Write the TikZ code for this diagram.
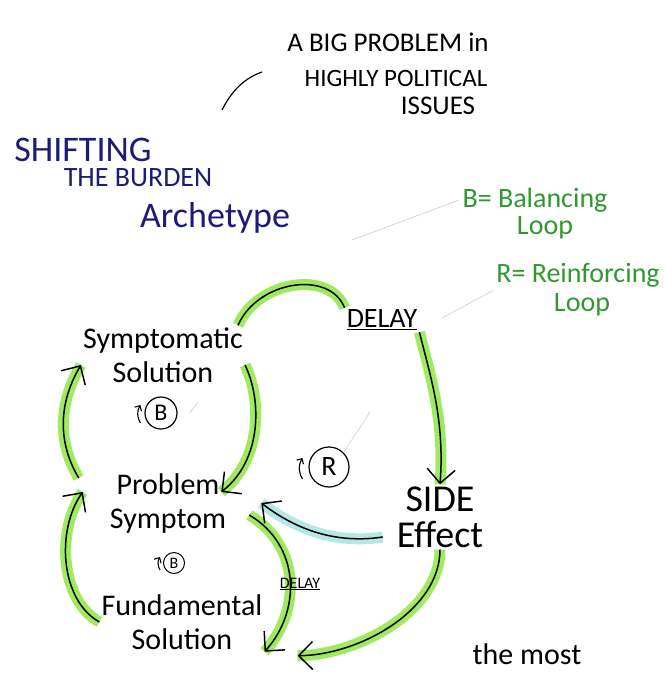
\documentclass[tikz,border=0pt]{standalone}
\usepackage{fontspec}
\setmainfont{Carlito}
\usetikzlibrary{arrows.meta}
\definecolor{navy}{HTML}{1C1C78}
\definecolor{leaf}{HTML}{2E9A2E}
\definecolor{lime}{HTML}{8FE646}
\definecolor{aqua}{HTML}{A6E4DE}
\begin{document}
\begin{tikzpicture}[x=1pt, y=-1pt,
    term/.style={font=\fontsize{30}{34}\selectfont, align=center, inner sep=2pt},
    flow/.style={draw=black, line width=1.5pt, -{Straight Barb[length=14pt,width=28pt]},
      preaction={draw=#1, line width=11pt, arrows=-, opacity=0.85}},
    flow/.default=lime,
    loopmark/.style={circle, draw, line width=1.2pt, inner sep=1pt, minimum size=32pt,
      font=\fontsize{24}{26}\selectfont},
    loopdir/.style={line width=1.1pt, -{Straight Barb[length=4pt,width=8pt]}},
    faint/.style={gray!45, line width=0.5pt}]
      \useasboundingbox (0,0) rectangle (666,675);
      \clip (0,0) rectangle (666,675);
      % heading notes
      \node[font=\fontsize{27}{28}\selectfont] (quoteA) at (388,42) {A BIG PROBLEM in};
      \node[font=\fontsize{25}{28}\selectfont] (quoteB) at (396,78) {HIGHLY POLITICAL};
      \node[font=\fontsize{27}{28}\selectfont] (quoteC) at (438,106) {ISSUES};
      \draw[line width=1.2pt] (222,110) .. controls (232,90) and (245,78) .. (262,72);
      \node[navy, font=\fontsize{36}{38}\selectfont] (titleA) at (83,150) {SHIFTING};
      \node[navy, font=\fontsize{28}{30}\selectfont] (titleB) at (138,178) {THE BURDEN};
      \node[navy, font=\fontsize{36}{38}\selectfont] (titleC) at (215,218) {Archetype};
      \node[leaf, font=\fontsize{28}{30}\selectfont] (legB) at (535,200) {B= Balancing};
      \node[leaf, font=\fontsize{28}{30}\selectfont] (legBl) at (545,228) {Loop};
      \node[leaf, font=\fontsize{28}{30}\selectfont] (legR) at (578,275) {R= Reinforcing};
      \node[leaf, font=\fontsize{28}{30}\selectfont] (legRl) at (582,305) {Loop};
      % the loop
      \node[term] (symsol) at (163,355) {Symptomatic\\Solution};
      \node[term] (prob) at (168,503) {Problem\\Symptom};
      \node[term] (fund) at (182,622) {Fundamental\\Solution};
      \node[term, font=\fontsize{38}{36}\selectfont] (side) at (440,517) {SIDE\\Effect};
      \node[font=\fontsize{28}{28}\selectfont, inner sep=2pt] (delayA) at (382,320) {\underline{DELAY}};
      \node[loopmark] (loopB1) at (161,413) {B};
      \node[loopmark, minimum size=40pt, font=\fontsize{28}{30}\selectfont] (loopR) at (329,467) {R};
      \node[loopmark, minimum size=21pt, line width=1pt, font=\fontsize{16}{18}\selectfont] (loopB2) at (174,563) {B};
      \draw[loopdir] ([shift={(-4pt,-10pt)}]loopB1.west) to[bend left=30] ([shift={(-4pt,8pt)}]loopB1.west);
      \draw[loopdir] ([shift={(-6pt,-12pt)}]loopR.west) to[bend left=30] ([shift={(-6pt,9pt)}]loopR.west);
      \draw[loopdir] ([shift={(-3pt,-7pt)}]loopB2.west) to[bend left=30] ([shift={(-3pt,6pt)}]loopB2.west);
      \draw[flow] ([xshift=-7pt]symsol.north east) .. controls (258,280) and (330,270) .. (delayA.north west)
        (delayA.south east) .. controls (430,375) and (445,420) .. (side.north);
      \draw[flow] ([yshift=-10pt]symsol.east) .. controls (262,400) and (262,460) .. ([xshift=-7pt,yshift=11pt]prob.east);
      \draw[flow] ([xshift=-29pt,yshift=25pt]prob.west) .. controls (56,440) and (60,400) .. ([yshift=-10pt]symsol.west);
      \draw[flow] (fund.west) .. controls (60,600) and (56,530) .. ([xshift=-25pt,yshift=11pt]prob.west);
      \draw[flow] ([xshift=21pt,yshift=-12pt]prob.east) .. controls (300,545) and (302,610) .. (fund.south east);
      \draw[flow=aqua] ([xshift=-12pt,yshift=-20pt]side.west) .. controls (330,545) and (290,525) .. ([xshift=33pt]prob.east);
      \draw[flow] (side.south) .. controls (440,610) and (360,655) .. ([xshift=33pt,yshift=-4pt]fund.south east);
      \node[font=\fontsize{16}{18}\selectfont, inner sep=1pt] (delayB) at (300,584) {\underline{DELAY}};
      % pointer strokes
      \coordinate (pB) at (352,240);
      \coordinate (pR) at (442,318);
      \coordinate (pIn) at (370,412);
      \coordinate (pTick) at (198,402);
      \draw[faint] (pB) -- (legB.west);
      \draw[faint] (pR) -- (legR.south west);
      \draw[faint] (loopR.north east) -- (pIn);
      \draw[faint] ([xshift=12pt]loopB1.east) -- (pTick);
      \node[font=\fontsize{30}{32}\selectfont, anchor=base] (most) at (527,664) {the most};
\end{tikzpicture}
\end{document}
